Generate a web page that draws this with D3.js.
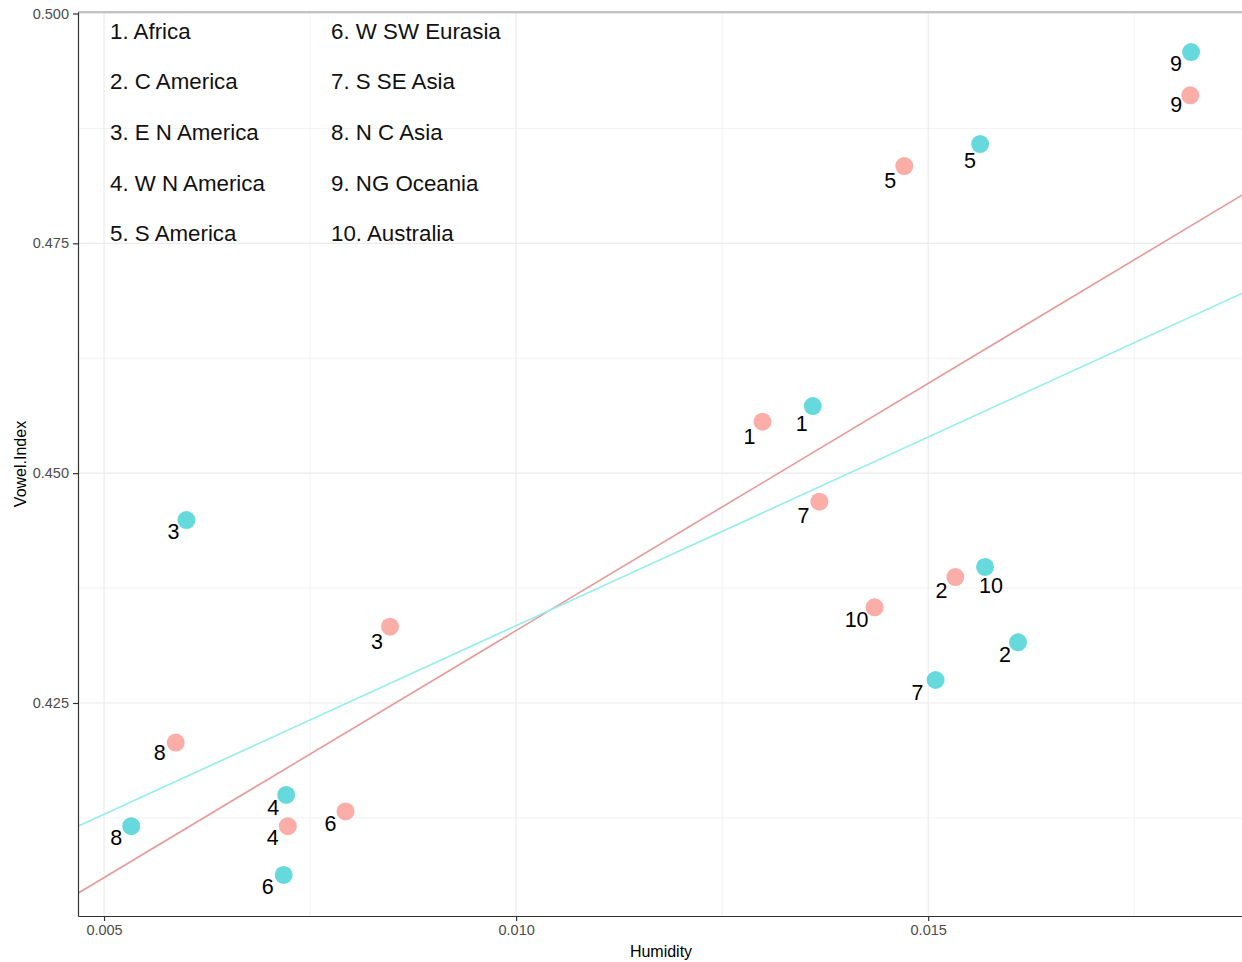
<!DOCTYPE html>
<html>
<head>
<meta charset="utf-8">
<script src="https://cdn.jsdelivr.net/npm/d3@7"></script>
<style>
  body { margin: 0; background: #fff; }
  svg { display: block; font-family: "Liberation Sans", Arial, Helvetica, sans-serif; }
</style>
</head>
<body>
<svg id="chart" width="1242" height="962"></svg>
<script>
// ---- DATA ----
const regionNames = ["Africa", "C America", "E N America", "W N America", "S America",
                     "W SW Eurasia", "S SE Asia", "N C Asia", "NG Oceania", "Australia"];
const regionIds = [1, 2, 3, 4, 5, 6, 7, 8, 9, 10];

// Series A (salmon)
const humidityA = [0.01299, 0.01533, 0.00847, 0.00723, 0.01471, 0.00793, 0.01368, 0.00587, 0.01818, 0.01435];
const vowelA    = [0.4556, 0.4387, 0.4333, 0.4116, 0.4834, 0.4132, 0.4469, 0.4207, 0.4911, 0.4354];
// Series B (teal)
const humidityB = [0.01360, 0.01609, 0.00600, 0.00721, 0.01563, 0.00718, 0.01509, 0.00533, 0.01819, 0.01569];
const vowelB    = [0.4573, 0.4316, 0.4449, 0.4150, 0.4858, 0.4063, 0.4275, 0.4116, 0.4958, 0.4398];

// Fitted lines (endpoints)
const fitAX = [0.004684, 0.01882];
const fitAY = [0.4043, 0.4803];
const fitBX = [0.004684, 0.01882];
const fitBY = [0.4116, 0.4696];

const xTicks = [0.005, 0.010, 0.015];
const xMinor = [0.0075, 0.0125, 0.0175];
const yTicks = [0.425, 0.450, 0.475, 0.500];
const yMinor = [0.4125, 0.4375, 0.4625, 0.4875];

// ---- LAYOUT ----
const labelNudgeA = [[-13,15],[-14,14],[-13,15],[-15,12],[-14,15],[-15,13],[-16,14],[-16,10],[-14,10],[-18,13]];
const labelNudgeB = [[-11,18],[-13,13],[-13,12],[-13,13],[-10,17],[-16,12],[-18,13],[-15,12],[-15,12],[6,19]];

const P = { left: 78, right: 1243, top: 12, bottom: 916 };
const colA = "#F8766D", colB = "#00BFC4";

const svg = d3.select("#chart");
const x = d3.scaleLinear().domain([0.004684, 0.01882]).range([P.left, P.right]);
const y = d3.scaleLinear().domain([0.40183, 0.50016]).range([P.bottom, P.top]);

svg.append("defs").append("clipPath").attr("id", "clip")
  .append("rect").attr("x", P.left).attr("y", P.top)
  .attr("width", P.right - P.left).attr("height", P.bottom - P.top);

// gridlines
const grid = svg.append("g");
grid.selectAll(".gxm").data(xMinor).join("line")
  .attr("x1", d => x(d)).attr("x2", d => x(d)).attr("y1", P.top).attr("y2", P.bottom)
  .attr("stroke", "#F2F2F2").attr("stroke-width", 1);
grid.selectAll(".gym").data(yMinor).join("line")
  .attr("y1", d => y(d)).attr("y2", d => y(d)).attr("x1", P.left).attr("x2", P.right)
  .attr("stroke", "#F2F2F2").attr("stroke-width", 1);
grid.selectAll(".gx").data(xTicks).join("line")
  .attr("x1", d => x(d)).attr("x2", d => x(d)).attr("y1", P.top).attr("y2", P.bottom)
  .attr("stroke", "#EBEBEB").attr("stroke-width", 1.2);
grid.selectAll(".gy").data(yTicks).join("line")
  .attr("y1", d => y(d)).attr("y2", d => y(d)).attr("x1", P.left).attr("x2", P.right)
  .attr("stroke", "#EBEBEB").attr("stroke-width", 1.2);

// legend-like annotation text
const leg = svg.append("g").attr("font-size", 22.3).attr("fill", "#111");
regionNames.forEach((name, i) => {
  const col = Math.floor(i / 5), row = i % 5;
  leg.append("text")
    .attr("x", col === 0 ? 110 : 331)
    .attr("y", 31 + row * 50.7)
    .attr("dominant-baseline", "central")
    .text(regionIds[i] + ". " + name);
});

// fit lines
const plot = svg.append("g").attr("clip-path", "url(#clip)");
const line = d3.line().x(d => x(d[0])).y(d => y(d[1]));
plot.append("path").datum(fitAX.map((v, i) => [v, fitAY[i]])).attr("d", line)
  .attr("fill", "none").attr("stroke", "#E69A97").attr("stroke-width", 1.6);
plot.append("path").datum(fitBX.map((v, i) => [v, fitBY[i]])).attr("d", line)
  .attr("fill", "none").attr("stroke", "#9AEDEF").attr("stroke-width", 1.7);

// points
const ptsA = regionIds.map((id, i) => ({ id, hx: humidityA[i], v: vowelA[i], n: labelNudgeA[i] }));
const ptsB = regionIds.map((id, i) => ({ id, hx: humidityB[i], v: vowelB[i], n: labelNudgeB[i] }));

[[ptsA, colA], [ptsB, colB]].forEach(([pts, c]) => {
  plot.append("g").selectAll("circle").data(pts).join("circle")
    .attr("cx", d => x(d.hx)).attr("cy", d => y(d.v)).attr("r", 9)
    .attr("fill", c).attr("fill-opacity", 0.6);
});
[ptsA, ptsB].forEach(pts => {
  svg.append("g").selectAll("text").data(pts).join("text")
    .attr("x", d => x(d.hx) + d.n[0]).attr("y", d => y(d.v) + d.n[1])
    .attr("text-anchor", "middle").attr("dominant-baseline", "central")
    .attr("font-size", 21.5).attr("fill", "#000")
    .text(d => d.id);
});

// top border
svg.append("line").attr("x1", P.left).attr("x2", P.right).attr("y1", P.top).attr("y2", P.top)
  .attr("stroke", "#8A8A8A").attr("stroke-width", 1.2);

// axes
const xAxis = d3.axisBottom(x).tickValues(xTicks).tickFormat(d3.format(".3f"))
  .tickSizeInner(5).tickSizeOuter(0).tickPadding(4);
const yAxis = d3.axisLeft(y).tickValues(yTicks).tickFormat(d3.format(".3f"))
  .tickSizeInner(5).tickSizeOuter(0).tickPadding(4);
const gx = svg.append("g").attr("transform", `translate(0,${P.bottom})`).call(xAxis);
const gy = svg.append("g").attr("transform", `translate(${P.left},0)`).call(yAxis);
[gx, gy].forEach(g => {
  g.select(".domain").attr("stroke", "#333").attr("stroke-width", 1.2);
  g.selectAll(".tick line").attr("stroke", "#333").attr("stroke-width", 1.2);
  g.selectAll(".tick text").attr("fill", "#4D4D4D").attr("font-size", 14.5)
    .attr("font-family", "'Liberation Sans', Arial, sans-serif");
});

// axis titles
svg.append("text").attr("x", 661).attr("y", 951).attr("text-anchor", "middle")
  .attr("dominant-baseline", "central").attr("font-size", 16).text("Humidity");
svg.append("text").attr("transform", "translate(20,464) rotate(-90)").attr("text-anchor", "middle")
  .attr("dominant-baseline", "central").attr("font-size", 16).text("Vowel.Index");
</script>
</body>
</html>
